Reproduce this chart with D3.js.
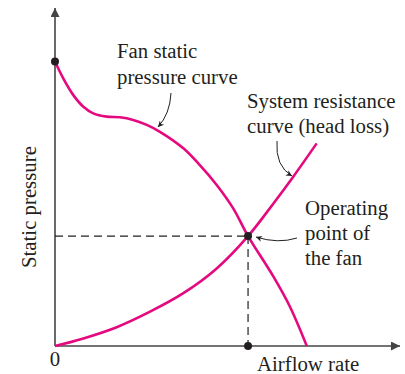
<!DOCTYPE html>
<html>
<head>
<meta charset="utf-8">
<script src="https://cdn.jsdelivr.net/npm/d3@7"></script>
<style>
  html, body { margin: 0; padding: 0; background: #fff; }
  svg { display: block; }
  text { font-family: "Liberation Serif", "Times New Roman", serif; fill: #231f20; }
</style>
</head>
<body>
<svg id="chart" width="405" height="374"></svg>
<script>
// Fan static pressure curve: [airflow, static pressure]
const fanAirflow  = [0, 2.5, 5.5, 8.6, 11.6, 15.7, 19.7, 23.7, 27.8, 31.8, 38.9, 43.9, 49, 54, 58.5, 66.2, 71.2, 76.3];
const fanPressure = [86.2, 81.1, 76.1, 72.5, 70.5, 69.5, 69.3, 68.5, 67, 64.9, 59.9, 54.8, 48.8, 41.7, 33.3, 21, 11.9, 0];

// System resistance curve (head loss): [airflow, static pressure]
const sysAirflow  = [0, 8.6, 18.7, 28.8, 38.9, 49, 58.5, 66.2, 72.2, 79.3];
const sysPressure = [0, 2.3, 5.7, 10.4, 16, 23.5, 33.3, 43.2, 51.3, 61.4];

// Operating point of the fan (intersection of the two curves)
const operatingPoint = [58.5, 33.3];

const axisLabels = { x: "Airflow rate", y: "Static pressure", origin: "0" };
const fanLabel = ["Fan static", "pressure curve"];
const sysLabel = ["System resistance", "curve (head loss)"];
const opLabel  = ["Operating", "point of", "the fan"];

const curveColor = "#e5097f";
const inkColor = "#231f20";
const axisColor = "#444";
const fontSize = 20.8;

const svg = d3.select("#chart");

const x = d3.scaleLinear().domain([0, 100]).range([55, 385]);
const y = d3.scaleLinear().domain([0, 100]).range([346, 16]);

// arrowhead markers
const defs = svg.append("defs");
defs.append("marker")
  .attr("id", "axisHead")
  .attr("viewBox", "0 0 10 10")
  .attr("refX", 10).attr("refY", 5)
  .attr("markerUnits", "userSpaceOnUse")
  .attr("markerWidth", 11).attr("markerHeight", 9)
  .attr("orient", "auto")
  .append("path").attr("d", "M0,0 L10,5 L0,10 Z").attr("fill", axisColor);
defs.append("marker")
  .attr("id", "noteHead")
  .attr("viewBox", "0 0 10 10")
  .attr("refX", 10).attr("refY", 5)
  .attr("markerUnits", "userSpaceOnUse")
  .attr("markerWidth", 8).attr("markerHeight", 6)
  .attr("orient", "auto")
  .append("path").attr("d", "M0,0 L10,5 L0,10 L3,5 Z").attr("fill", inkColor);

// axes with arrows
svg.append("line")
  .attr("x1", x(0)).attr("y1", y(0))
  .attr("x2", x(0) + 345).attr("y2", y(0))
  .attr("stroke", axisColor).attr("stroke-width", 1.6)
  .attr("marker-end", "url(#axisHead)");
svg.append("line")
  .attr("x1", x(0)).attr("y1", y(0))
  .attr("x2", x(0)).attr("y2", 8)
  .attr("stroke", axisColor).attr("stroke-width", 1.6)
  .attr("marker-end", "url(#axisHead)");

// dashed guide lines to the operating point
const [opX, opY] = operatingPoint;
svg.append("line")
  .attr("x1", x(0)).attr("y1", y(opY))
  .attr("x2", x(opX)).attr("y2", y(opY))
  .attr("stroke", inkColor).attr("stroke-width", 1.2)
  .attr("stroke-dasharray", "8,5");
svg.append("line")
  .attr("x1", x(opX)).attr("y1", y(opY))
  .attr("x2", x(opX)).attr("y2", y(0))
  .attr("stroke", inkColor).attr("stroke-width", 1.2)
  .attr("stroke-dasharray", "8,5");

const line = d3.line()
  .x(d => x(d[0]))
  .y(d => y(d[1]))
  .curve(d3.curveCatmullRom.alpha(0.5));

const fanData = d3.zip(fanAirflow, fanPressure);
const sysData = d3.zip(sysAirflow, sysPressure);

svg.append("path")
  .datum(sysData)
  .attr("d", line)
  .attr("fill", "none")
  .attr("stroke", curveColor)
  .attr("stroke-width", 2.6);
svg.append("path")
  .datum(fanData)
  .attr("d", line)
  .attr("fill", "none")
  .attr("stroke", curveColor)
  .attr("stroke-width", 2.6);

// dots: fan shut-off pressure, operating point, operating airflow
const dots = [
  [0, fanPressure[0]],
  [opX, opY],
  [opX, 0]
];
svg.selectAll("circle.dot")
  .data(dots)
  .join("circle")
  .attr("class", "dot")
  .attr("cx", d => x(d[0]))
  .attr("cy", d => y(d[1]))
  .attr("r", 4)
  .attr("fill", inkColor);

// annotation leader arrows
const notes = [
  "M171,93 Q170,114 158,127",
  "M277,141 Q275,166 292,176",
  "M297,238 Q278,244 256,237"
];
svg.selectAll("path.note")
  .data(notes)
  .join("path")
  .attr("class", "note")
  .attr("d", d => d)
  .attr("fill", "none")
  .attr("stroke", inkColor)
  .attr("stroke-width", 1)
  .attr("marker-end", "url(#noteHead)");

// text blocks
function block(lines, x0, y0, dy) {
  const t = svg.append("text")
    .attr("x", x0).attr("y", y0)
    .attr("font-size", fontSize);
  lines.forEach((s, i) => {
    t.append("tspan").attr("x", x0).attr("y", y0 + i * dy).text(s);
  });
}
block(fanLabel, 117, 58, 26);
block(sysLabel, 247, 108, 25);
block(opLabel, 305, 215, 25);

svg.append("text")
  .attr("x", x(0)).attr("y", 366)
  .attr("text-anchor", "middle")
  .attr("font-size", fontSize)
  .text(axisLabels.origin);
svg.append("text")
  .attr("x", 257).attr("y", 371)
  .attr("font-size", fontSize)
  .text(axisLabels.x);
svg.append("text")
  .attr("transform", "translate(36,268) rotate(-90)")
  .attr("font-size", fontSize)
  .text(axisLabels.y);
</script>
</body>
</html>
